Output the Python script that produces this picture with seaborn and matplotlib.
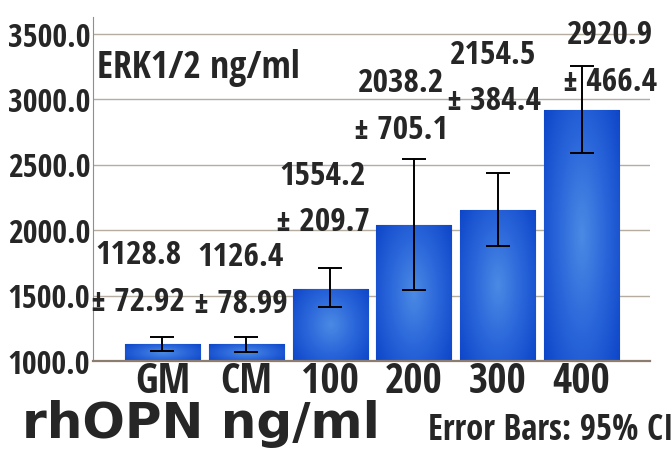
import numpy as np
import pandas as pd
import matplotlib
matplotlib.use("Agg")
import matplotlib.pyplot as plt
import seaborn as sns
from matplotlib.colors import LinearSegmentedColormap

# dados
groups = ["GM", "CM", "100", "200", "300", "400"]
means = [1128.8, 1126.4, 1554.2, 2038.2, 2154.5, 2920.9]
sds = ["72.92", "78.99", "209.7", "705.1", "384.4", "466.4"]
ci_low = [1079, 1071, 1412, 1539, 1882, 2590]
ci_high = [1186, 1186, 1711, 2547, 2436, 3257]

# posição dos rótulos (deslocamento x, centro y)
label_dx = [-0.29, -0.07, -0.09, -0.15, -0.05, 0.34]
label_y = [1629, 1613, 2235, 2944, 3159, 3308]

df = pd.DataFrame({"grupo": groups, "media": means})

sns.set_style("white")
cond = "Open Sans Condensed"
plt.rcParams["font.family"] = [cond, "DejaVu Sans"]
plt.rcParams["font.weight"] = "bold"

fig = plt.figure(figsize=(6.72, 4.5), dpi=100)
ax = fig.add_axes([93 / 672, 1 - 361 / 450, 557 / 672, 344 / 450])

ymin, ymax = 1000, 3630

sns.barplot(data=df, x="grupo", y="media", color="#2a63d8", width=0.895,
            errorbar=None, ax=ax, saturation=1, edgecolor="#0b3fb8", linewidth=0.8,
            zorder=2)

# gradiente radial dentro das barras
cmap = LinearSegmentedColormap.from_list("azul", ["#4b8ae4", "#2a66da", "#0d45c8"])
yy, xx = np.mgrid[-1:1:80j, -1:1:80j]
grad = np.sqrt(xx ** 2 + (yy * 0.8) ** 2)
for p in list(ax.patches):
    x0, y0 = p.get_x(), max(p.get_y(), ymin)
    w, y1 = p.get_width(), p.get_y() + p.get_height()
    im = ax.imshow(grad, cmap=cmap, extent=[x0, x0 + w, y0, y1],
                   aspect="auto", zorder=2.5, vmin=0, vmax=1.3, origin="lower")
    im.set_clip_path(p)

xpos = np.arange(len(groups))
err = [np.array(means) - np.array(ci_low), np.array(ci_high) - np.array(means)]
ax.errorbar(xpos, means, yerr=err, fmt="none", ecolor="black", elinewidth=1.4,
            capsize=8.5, capthick=1.4, zorder=4)

for i in range(len(groups)):
    ax.text(xpos[i] + label_dx[i], label_y[i], f"{means[i]:.1f}\n± {sds[i]}",
            ha="center", va="center", fontsize=24, fontweight="bold",
            linespacing=1.55, zorder=5)

ax.set_xlim(-0.829, 5.817)
ax.set_ylim(ymin, ymax)
ax.set_yticks([1000, 1500, 2000, 2500, 3000, 3500])
ax.set_yticklabels([f"{v:.1f}" for v in [1000, 1500, 2000, 2500, 3000, 3500]])
ax.yaxis.grid(True, color="#b5ad9f", linewidth=1.0, zorder=0)
ax.set_axisbelow(True)
ax.tick_params(axis="y", length=0, pad=2, labelsize=23)
ax.tick_params(axis="x", length=0, pad=1, labelsize=30)
for t in ax.get_xticklabels() + ax.get_yticklabels():
    t.set_fontweight("bold")
ax.set_xlabel("")
ax.set_ylabel("")
sns.despine(ax=ax, top=True, right=True)
ax.spines["left"].set_color("#8f8f8f")
ax.spines["bottom"].set_color("#8c7d6e")
ax.spines["bottom"].set_linewidth(1.6)

ax.text(0.007, 0.823, "ERK1/2 ng/ml", transform=ax.transAxes, fontsize=27,
        fontweight="bold", va="baseline", ha="left", zorder=6)

fig.text(22 / 672, 1 - 448 / 450, "rhOPN ng/ml", fontsize=36, fontweight="bold",
         family="DejaVu Sans", va="bottom", ha="left")
fig.text(428 / 672, 1 - 449 / 450, "Error Bars: 95% CI", fontsize=25,
         fontweight="bold", va="bottom", ha="left")

fig.savefig("out.png", dpi=100)
